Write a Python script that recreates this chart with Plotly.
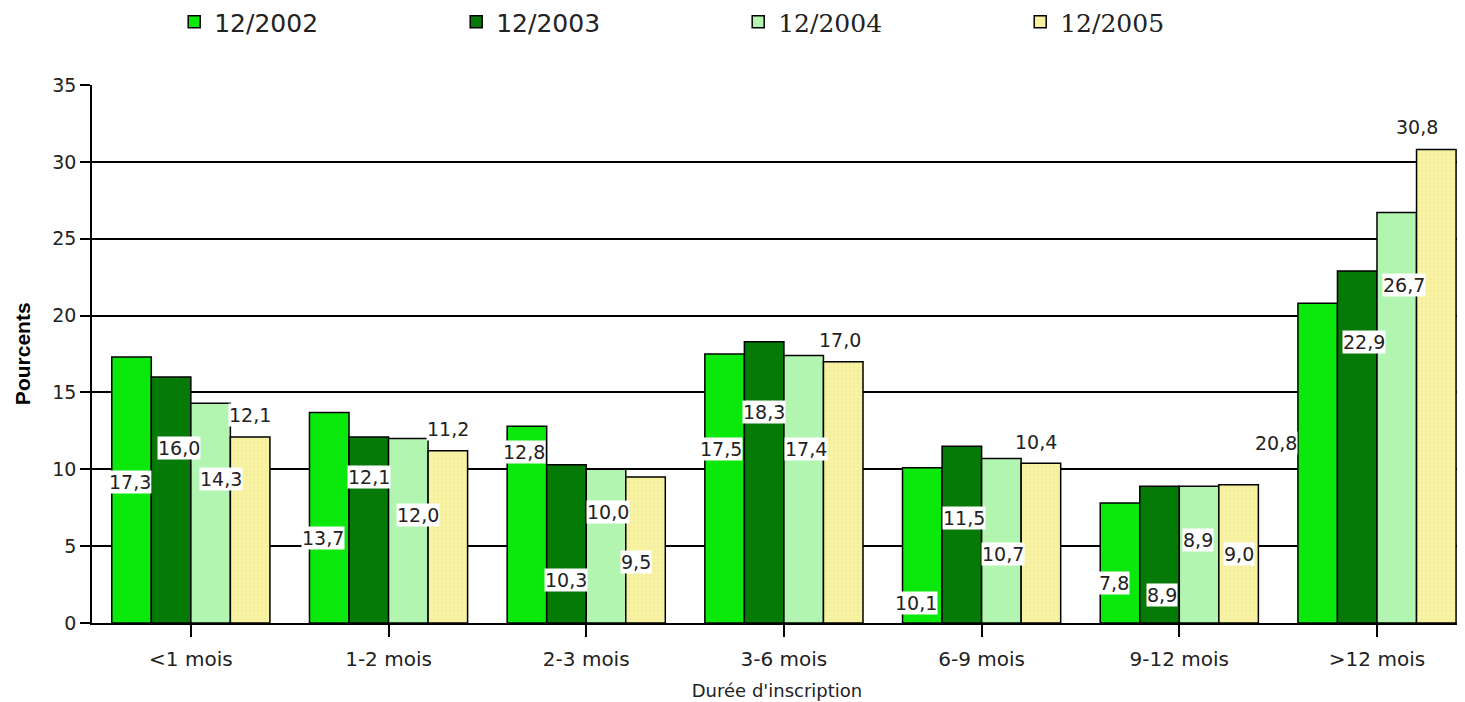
from plotly import graph_objects as go

categories = ['<1 mois', '1-2 mois', '2-3 mois', '3-6 mois', '6-9 mois', '9-12 mois', '>12 mois']
series_names = ['12/2002', '12/2003', '12/2004', '12/2005']

v2002 = [17.3, 13.7, 12.8, 17.5, 10.1, 7.8, 20.8]
v2003 = [16.0, 12.1, 10.3, 18.3, 11.5, 8.9, 22.9]
v2004 = [14.3, 12.0, 10.0, 17.4, 10.7, 8.9, 26.7]
v2005 = [12.1, 11.2, 9.5, 17.0, 10.4, 9.0, 30.8]
values = [v2002, v2003, v2004, v2005]

colors = ['#0be80b', '#067a06', '#b2f5b0', '#f7f3a2']
legend_labels = [
    '12/2002',
    '12/2003',
    "<span style='font-family:DejaVu Serif'>12/2004</span>",
    "<span style='font-family:DejaVu Serif'>12/2005</span>",
]

# where the value labels sit (the original scatters them around the bars)
label_y = [
    [9.2, 5.5, 11.1, 11.3, 1.3, 2.6, 11.7],
    [11.4, 9.5, 2.8, 13.7, 6.8, 1.8, 18.3],
    [9.4, 7.0, 7.2, 11.3, 4.5, 5.4, 22.0],
    [13.5, 12.6, 4.0, 18.4, 11.8, 4.5, 32.3],
]
label_xshift = [
    [-2, -6, -3, -4, -6, -6, -42],
    [8, 0, 0, 0, 2, 2, 7],
    [10, 10, 2, 2, 2, -1, 7],
    [0, 0, -10, -3, -5, 0, -19],
]
offsets = [-0.3, -0.1, 0.1, 0.3]

FONT = 'DejaVu Sans, Arial, sans-serif'

fig = go.Figure()
for i, name in enumerate(series_names):
    marker = dict(color=colors[i], line=dict(color='black', width=1.5))
    if i == 3:
        marker['pattern'] = dict(shape='.', fgcolor='#e2d98a', size=4, solidity=0.15)
    fig.add_trace(go.Bar(
        x=list(range(len(categories))),
        y=values[i],
        name=legend_labels[i],
        marker=marker,
    ))

annotations = []
for i in range(4):
    for j, v in enumerate(values[i]):
        annotations.append(dict(
            x=j + offsets[i], y=label_y[i][j], xref='x', yref='y',
            text=f"{v:.1f}".replace('.', ','),
            showarrow=False, bgcolor='white', borderpad=0,
            xshift=label_xshift[i][j],
            font=dict(family=FONT, size=19, color='#222'),
        ))

annotations.append(dict(
    x=-0.051, y=0.5, xref='paper', yref='paper', text='<b>Pourcents</b>',
    xanchor='center', yanchor='middle',
    textangle=-90, showarrow=False,
    font=dict(family='Liberation Sans, Arial, sans-serif', size=21, color='black'),
))

# the page body adds an 8px margin, so the figure is trimmed to fit the window
fig.update_layout(
    width=1457, height=694,
    margin=dict(l=84, r=3, t=77, b=79, autoexpand=False),
    plot_bgcolor='white', paper_bgcolor='white',
    barmode='group', bargap=0.2, bargroupgap=0,
    font=dict(family=FONT, size=19, color='#222'),
    annotations=annotations,
    legend=dict(
        orientation='h', x=0.06, y=1.117, xanchor='left', yanchor='middle',
        entrywidth=237, font=dict(family=FONT, size=25, color='#222'),
        itemclick=False,
    ),
)
fig.update_xaxes(
    tickmode='array', tickvals=list(range(len(categories))), ticktext=categories,
    range=[-0.5, 6.43], automargin=False,
    showline=True, linecolor='black', linewidth=1.5,
    ticks='outside', tickson='boundaries', ticklen=12, tickwidth=1.5, tickcolor='black',
    ticklabelstandoff=5, tickfont=dict(size=20),
    showgrid=False, zeroline=False,
    title=dict(text="Durée d'inscription", standoff=15, font=dict(size=18)),
)
fig.update_yaxes(
    range=[0, 35], dtick=5, automargin=False,
    showline=True, linecolor='black', linewidth=1.5,
    showgrid=True, gridcolor='black', gridwidth=1.5,
    ticks='outside', ticklen=10, tickwidth=1.5, tickcolor='black',
    zeroline=False, tickfont=dict(size=19),
)

fig.write_html("out.html")
